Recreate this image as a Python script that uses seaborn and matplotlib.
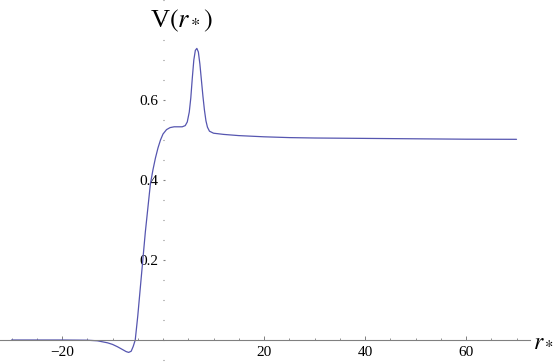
import numpy as np
import pandas as pd
import seaborn as sns
import matplotlib.pyplot as plt
from matplotlib.ticker import MultipleLocator

# valores
r_star = [-30, -20, -15, -13, -11, -10, -9, -8, -7.3, -6.8, -6.3, -5.9, -5.5,
          -5, -4.5, -4, -3.5, -3, -2.5, -2, -1.5, -1, -0.5, 0, 0.7, 1.4, 2.2,
          3, 3.8, 4.4, 4.8, 5.2, 5.5, 5.8, 6.1, 6.4, 6.7, 7.0, 7.3, 7.6, 7.9,
          8.2, 8.5, 8.8, 9.2, 10, 12, 15, 20, 25, 30, 40, 50, 60, 70]
V = [0, 0, -0.0005, -0.002, -0.007, -0.011, -0.017, -0.024, -0.029, -0.031,
     -0.028, -0.016, 0.0, 0.06, 0.13, 0.2, 0.27, 0.33, 0.39, 0.425, 0.455,
     0.48, 0.5, 0.515, 0.526, 0.531, 0.533, 0.533, 0.533, 0.536, 0.545, 0.57,
     0.605, 0.655, 0.7, 0.724, 0.729, 0.72, 0.69, 0.65, 0.61, 0.575, 0.548,
     0.532, 0.522, 0.517, 0.514, 0.511, 0.508, 0.506, 0.505, 0.504, 0.503,
     0.502, 0.5017]
y_ticks = [0.2, 0.4, 0.6]
x_ticks = [-20, 20, 40, 60]

df = pd.DataFrame({"r": r_star, "V": V})

sns.set_theme(style="white")
plt.rcParams["font.family"] = ["Liberation Serif", "DejaVu Serif"]
plt.rcParams["mathtext.fontset"] = "stix"
plt.rcParams["text.color"] = "black"

fig = plt.figure(figsize=(5.56, 3.63), dpi=100)
ax = fig.add_axes([0, 0, 530 / 556, 1])

sns.lineplot(data=df, x="r", y="V", sort=False, color="#5656b0", lw=0.9, ax=ax)

ax.set_xlim(-32.28, 72.67)
ax.set_ylim(-0.0575, 0.85)

# eixos cruzando na origem, estilo Mathematica
ax.spines["bottom"].set_position(("data", 0))
ax.spines["left"].set_position(("data", 0))
ax.spines["bottom"].set_color("#808080")
ax.spines["bottom"].set_linewidth(0.8)
ax.spines["left"].set_visible(False)
for s in ["top", "right"]:
    ax.spines[s].set_visible(False)

ax.set_xticks(x_ticks)
ax.set_yticks(y_ticks)
ax.set_xticklabels([f"{t}".replace("-", "\u2212") for t in x_ticks])
ax.set_yticklabels([f"{t:.1f}" for t in y_ticks])
ax.xaxis.set_minor_locator(MultipleLocator(5))
ax.yaxis.set_minor_locator(MultipleLocator(0.05))
ax.tick_params(axis="both", which="both", direction="in", color="#808080",
               labelsize=11, labelcolor="black", bottom=True, left=True)
ax.tick_params(axis="x", which="major", length=3, width=0.7, pad=4)
ax.tick_params(axis="x", which="minor", length=1.5, width=0.6)
ax.tick_params(axis="y", which="major", length=1.5, width=0.8, pad=3)
ax.tick_params(axis="y", which="minor", length=1, width=0.8)
ax.set_xlabel("")
ax.set_ylabel("")
ax.patch.set_alpha(0)

fig.text(150 / 556, 1 - 27 / 363, r"V$(r_*)$", fontsize=19,
         ha="left", va="baseline")
fig.text(533 / 556, 17 / 363, r"$r_*$", fontsize=17, ha="left", va="baseline")

fig.savefig("out.png", dpi=100)
